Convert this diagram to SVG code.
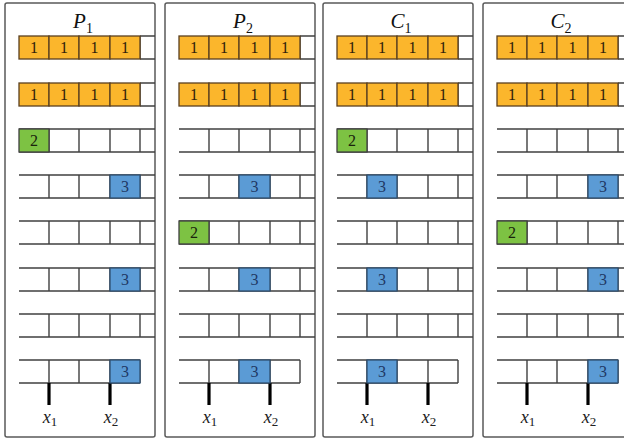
<svg xmlns="http://www.w3.org/2000/svg" xmlns:xlink="http://www.w3.org/1999/xlink" width="624" height="444" viewBox="0 0 624 444">
<style>
.panel{fill:#fff;stroke:#5a5a5a;stroke-width:1.5}
.grid{fill:none;stroke:#404040;stroke-width:1.4}
.o{fill:#fbb62c;stroke:#5a4020;stroke-width:1.3}
.g{fill:#7dc243;stroke:#404040;stroke-width:1.3}
.b{fill:#5b9bd5;stroke:#2f4f70;stroke-width:1.3}
.n{font-family:"Liberation Serif",serif;font-size:16px;text-anchor:middle}
.n1{fill:#2e200a}
.n2{fill:#1a240c}
.n3{fill:#1f3864}
.t{font-family:"Liberation Serif",serif;font-size:21px;text-anchor:middle;fill:#111}
.l{font-family:"Liberation Serif",serif;font-size:18px;text-anchor:middle;fill:#222}
.tick{stroke:#000;stroke-width:3.2}
</style>
<defs>
<path id="row" class="grid" d="M14,0H150M14,23H150M44,0V23M74,0V23M105,0V23M135,0V23"/>
<path id="lastrow" class="grid" d="M14,0H135M14,23H135M44,0V23M74,0V23M105,0V23M135,0V23"/>
<g id="orow">
<path class="grid" d="M135,0H150M135,23H150M135,0V23"/>
<rect class="o" x="14" y="0" width="30" height="23"/>
<rect class="o" x="44" y="0" width="30" height="23"/>
<rect class="o" x="74" y="0" width="31" height="23"/>
<rect class="o" x="105" y="0" width="30" height="23"/>
<text class="n n1" x="29" y="17">1</text>
<text class="n n1" x="59" y="17">1</text>
<text class="n n1" x="89.5" y="17">1</text>
<text class="n n1" x="120" y="17">1</text>
</g>
<g id="grn"><rect class="g" x="14" y="0" width="30" height="23"/><text class="n n2" x="29" y="17">2</text></g>
<g id="b1"><rect class="b" x="44" y="0" width="30" height="23"/><text class="n n3" x="59" y="17">3</text></g>
<g id="b2"><rect class="b" x="74" y="0" width="31" height="23"/><text class="n n3" x="89.5" y="17">3</text></g>
<g id="b3"><rect class="b" x="105" y="0" width="30" height="23"/><text class="n n3" x="120" y="17">3</text></g>
<g id="frame">
<rect class="panel" x="0" y="3" width="150" height="434" rx="2"/>
<use xlink:href="#orow" y="36"/>
<use xlink:href="#orow" y="83"/>
<use xlink:href="#row" y="129"/>
<use xlink:href="#row" y="175"/>
<use xlink:href="#row" y="221"/>
<use xlink:href="#row" y="268"/>
<use xlink:href="#row" y="314"/>
<use xlink:href="#lastrow" y="360"/>
<line class="tick" x1="44" y1="383" x2="44" y2="405"/>
<line class="tick" x1="105" y1="383" x2="105" y2="405"/>
<text class="l" x="45" y="423"><tspan font-style="italic">x</tspan><tspan font-size="13" dy="3">1</tspan></text>
<text class="l" x="106" y="423"><tspan font-style="italic">x</tspan><tspan font-size="13" dy="3">2</tspan></text>
</g>
</defs>
<g id="P1" transform="translate(5,0)">
<use xlink:href="#frame"/>
<text class="t" x="78" y="28"><tspan font-style="italic">P</tspan><tspan font-size="14" dy="5">1</tspan></text>
<use xlink:href="#grn" y="129"/>
<use xlink:href="#b3" y="175"/>
<use xlink:href="#b3" y="268"/>
<use xlink:href="#b3" y="360"/>
</g>
<g id="P2" transform="translate(165,0)">
<use xlink:href="#frame"/>
<text class="t" x="78" y="28"><tspan font-style="italic">P</tspan><tspan font-size="14" dy="5">2</tspan></text>
<use xlink:href="#b2" y="175"/>
<use xlink:href="#grn" y="221"/>
<use xlink:href="#b2" y="268"/>
<use xlink:href="#b2" y="360"/>
</g>
<g id="C1" transform="translate(323,0)">
<use xlink:href="#frame"/>
<text class="t" x="78" y="28"><tspan font-style="italic">C</tspan><tspan font-size="14" dy="5">1</tspan></text>
<use xlink:href="#grn" y="129"/>
<use xlink:href="#b1" y="175"/>
<use xlink:href="#b1" y="268"/>
<use xlink:href="#b1" y="360"/>
</g>
<g id="C2" transform="translate(483,0)">
<use xlink:href="#frame"/>
<text class="t" x="78" y="28"><tspan font-style="italic">C</tspan><tspan font-size="14" dy="5">2</tspan></text>
<use xlink:href="#b3" y="175"/>
<use xlink:href="#grn" y="221"/>
<use xlink:href="#b3" y="268"/>
<use xlink:href="#b3" y="360"/>
</g>
<g id="connectors"/>
</svg>
